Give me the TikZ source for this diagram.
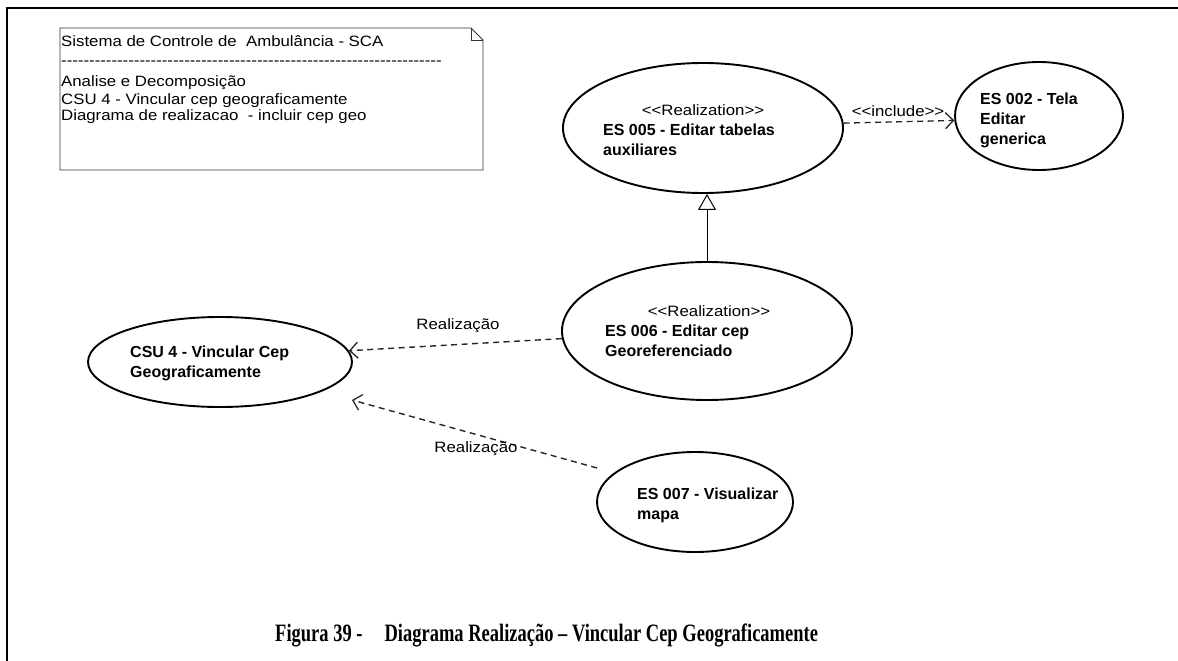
\documentclass[tikz,border=0pt]{standalone}
\usepackage{fontspec}
\usetikzlibrary{arrows.meta,shapes.geometric}
% fonts of the diagram
\newfontfamily\diagfont[FakeStretch=1.12,Ligatures=TeXOff]{Liberation Sans}
\newfontfamily\ucfont[Ligatures=TeXOff]{Liberation Sans}
\newfontfamily\capfont[FakeStretch=0.74]{Liberation Serif}
\begin{document}
\begin{tikzpicture}[x=1pt,y=-1pt,
  usecase/.style={draw=black, line width=1.9pt, ellipse, inner sep=0pt},
  plain/.style={font=\diagfont\fontsize{15}{17}\selectfont, inner sep=0pt},
  notetext/.style={plain, anchor=base west},
  stereo/.style={plain, anchor=base},
  uctext/.style={font=\ucfont\bfseries\fontsize{16}{20}\selectfont, inner sep=0pt, anchor=base west},
  dep/.style={draw=black!85, line width=1.4pt, dash pattern=on 6pt off 4.5pt,
    -{Straight Barb[length=8pt,width=16pt,line width=1.3pt]}},
  gen/.style={draw=black, line width=1pt,
    -{Triangle[open,length=16pt,width=18pt,line width=1pt]}},
  notebox/.style={draw=black!80, line width=0.9pt}
]
\useasboundingbox (0,0) rectangle (1178,661);

% frame
\draw[line width=2.2pt] (7,661) -- (7,8) -- (1178,8);

% note with folded corner
\draw[notebox, fill=white] (60,28) -- (471,28) -- (483,40) -- (483,170) -- (60,170) -- cycle;
\draw[notebox] (471,28) -- (471,40) -- (483,40);
\node[notetext] (n1) at (61,47) {Sistema de Controle de\ \ Ambulância - SCA};
\node[notetext] (n2) at (61,66) {--------------------------------------------------------------------};
\node[notetext] (n3) at (61,87) {Analise e Decomposição};
\node[notetext] (n4) at (61,104) {CSU 4 - Vincular cep geograficamente};
\node[notetext] (n5) at (61,121) {Diagrama de realizacao\ \ - incluir cep geo};

% use cases
\node[usecase, minimum width=280pt, minimum height=130pt] (es5) at (703,128) {};
\node[usecase, minimum width=168pt, minimum height=108pt] (es2) at (1039,116) {};
\node[usecase, minimum width=290pt, minimum height=138pt] (es6) at (707,331) {};
\node[usecase, minimum width=264pt, minimum height=90pt] (csu) at (220,362) {};
\node[usecase, minimum width=196pt, minimum height=100pt] (es7) at (695,502) {};

% use case texts
\node[stereo] (s5) at (703,115) {<<Realization>>};
\node[uctext] (t5a) at (603,135) {ES 005 - Editar tabelas};
\node[uctext] (t5b) at (603,155) {auxiliares};

\node[uctext] (t2a) at (980,104) {ES 002 - Tela};
\node[uctext] (t2b) at (980,124) {Editar};
\node[uctext] (t2c) at (980,144) {generica};

\node[stereo] (s6) at (709,316) {<<Realization>>};
\node[uctext] (t6a) at (605,336) {ES 006 - Editar cep};
\node[uctext] (t6b) at (605,356) {Georeferenciado};

\node[uctext] (tca) at (130,357) {CSU 4 - Vincular Cep};
\node[uctext] (tcb) at (130,377) {Geograficamente};

\node[uctext] (t7a) at (637,499) {ES 007 - Visualizar};
\node[uctext] (t7b) at (637,519) {mapa};

% connectors
\draw[dep] (es5.2) -- (es2.183);
\node[plain] (linc) at (898,111) {<<include>>};

\draw[gen] (es6.north) -- (es6.north |- es5.south);

\draw[dep] (es6.183) -- (csu.5);
\node[plain] (lr1) at (458,326) {Realização};

\coordinate (r2end) at (597,468);
\coordinate (r2tip) at (352,400);
\draw[dep] (r2end) -- (r2tip);
\node[plain] (lr2) at (476,449) {Realização};

% caption
\node[font=\capfont\bfseries\fontsize{25}{28}\selectfont, inner sep=0pt, anchor=base west] (cap)
  at (275,641) {Figura 39 -\hspace{22pt}Diagrama Realização – Vincular Cep Geograficamente};
\end{tikzpicture}
\end{document}
